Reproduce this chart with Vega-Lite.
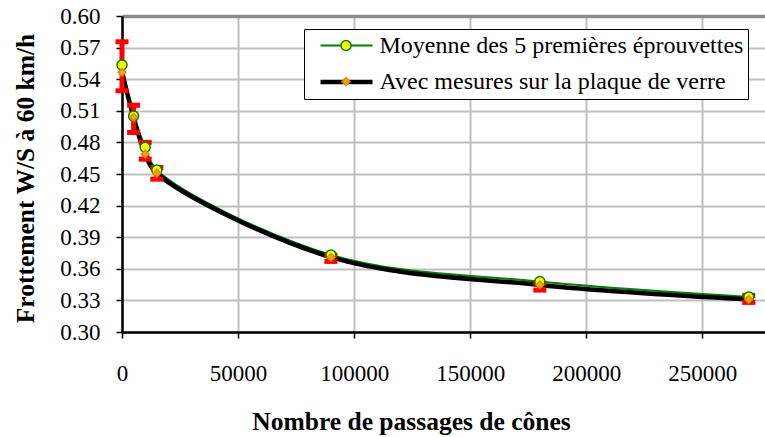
{
  "$schema": "https://vega.github.io/schema/vega-lite/v6.json",
  "width": 643,
  "height": 316,
  "autosize": "none",
  "padding": {"left": 122, "top": 16, "right": 0, "bottom": 105},
  "background": "white",
  "config": {
    "font": "Liberation Serif",
    "view": {"stroke": null}
  },
  "datasets": {
    "points": [
      {"passages": 0, "frottement": 0.5535, "serie": "Moyenne des 5 premières éprouvettes"},
      {"passages": 5000, "frottement": 0.505, "serie": "Moyenne des 5 premières éprouvettes"},
      {"passages": 10000, "frottement": 0.4754, "serie": "Moyenne des 5 premières éprouvettes"},
      {"passages": 15000, "frottement": 0.4538, "serie": "Moyenne des 5 premières éprouvettes"},
      {"passages": 90000, "frottement": 0.3732, "serie": "Moyenne des 5 premières éprouvettes"},
      {"passages": 180000, "frottement": 0.3479, "serie": "Moyenne des 5 premières éprouvettes"},
      {"passages": 270000, "frottement": 0.3333, "serie": "Moyenne des 5 premières éprouvettes"},
      {"passages": 0, "frottement": 0.5466, "serie": "Avec mesures sur la plaque de verre"},
      {"passages": 5000, "frottement": 0.5039, "serie": "Avec mesures sur la plaque de verre"},
      {"passages": 10000, "frottement": 0.469, "serie": "Avec mesures sur la plaque de verre"},
      {"passages": 15000, "frottement": 0.4507, "serie": "Avec mesures sur la plaque de verre"},
      {"passages": 90000, "frottement": 0.371, "serie": "Avec mesures sur la plaque de verre"},
      {"passages": 180000, "frottement": 0.3447, "serie": "Avec mesures sur la plaque de verre"},
      {"passages": 270000, "frottement": 0.331, "serie": "Avec mesures sur la plaque de verre"}
    ],
    "erreurs": [
      {"passages": 0, "bas": 0.529, "haut": 0.5755},
      {"passages": 5000, "bas": 0.4894, "haut": 0.5153},
      {"passages": 10000, "bas": 0.4641, "haut": 0.48},
      {"passages": 15000, "bas": 0.4451, "haut": 0.4562},
      {"passages": 90000, "bas": 0.367, "haut": 0.373},
      {"passages": 180000, "bas": 0.3398, "haut": 0.3464},
      {"passages": 270000, "bas": 0.3281, "haut": 0.3348}
    ]
  },
  "layer": [
    {
      "data": {"name": "points"},
      "mark": {"type": "line", "interpolate": "catmull-rom"},
      "encoding": {
        "x": {
          "field": "passages", "type": "quantitative",
          "scale": {"domain": [0, 277000], "nice": false, "zero": false},
          "axis": {
            "values": [0, 50000, 100000, 150000, 200000, 250000],
            "tickCount": 20,
            "format": "d",
            "title": "Nombre de passages de cônes",
            "labelFontSize": 23, "labelColor": "black", "labelPadding": 24, "labelFlush": false, "labelOverlap": false,
            "tickSize": 6, "tickColor": "black", "tickWidth": 1.5,
            "domainColor": "black", "domainWidth": 2.5,
            "gridColor": "#c0c0c0", "gridWidth": 2,
            "titleFontSize": 25.5, "titleFontWeight": "bold", "titleColor": "black",
            "titleX": 289, "titleY": 97, "titleBaseline": "alphabetic", "titleAlign": "center"
          }
        },
        "y": {
          "field": "frottement", "type": "quantitative",
          "scale": {"domain": [0.3, 0.6], "nice": false, "zero": false},
          "axis": {
            "values": [0.3, 0.33, 0.36, 0.39, 0.42, 0.45, 0.48, 0.51, 0.54, 0.57, 0.6],
            "tickCount": 20,
            "format": ".2f",
            "title": "Frottement W/S à 60 km/h",
            "labelFontSize": 23, "labelColor": "black", "labelPadding": 16, "labelFlush": false, "labelOverlap": false,
            "tickSize": 6, "tickColor": "black", "tickWidth": 1.5,
            "domainColor": "black", "domainWidth": 2.5,
            "gridColor": {"condition": {"test": "datum.value >= 0.599", "value": "#8c8c8c"}, "value": "#c0c0c0"},
            "gridWidth": {"condition": {"test": "datum.value >= 0.599", "value": 3.5}, "value": 2},
            "titleFontSize": 25.5, "titleFontWeight": "bold", "titleColor": "black",
            "titleAngle": -90, "titleX": -89, "titleY": 162, "titleBaseline": "alphabetic", "titleAlign": "center"
          }
        },
        "color": {
          "field": "serie", "type": "nominal", "title": null,
          "scale": {"range": ["#000000", "#008000"]},
          "legend": {
            "orient": "none", "legendX": 182, "legendY": 13,
            "values": ["Moyenne des 5 premières éprouvettes", "Avec mesures sur la plaque de verre"],
            "symbolType": "M-2.6,0H2.6", "symbolSize": 400, "symbolStrokeWidth": 4,
            "labelFont": "Liberation Serif", "labelFontSize": 24, "labelColor": "black", "labelLimit": 600,
            "labelOffset": 20.5, "symbolOffset": 25.5, "padding": 4.5, "rowPadding": 12,
            "strokeColor": "black", "fillColor": "white",
            "labelExpr": "datum.label + ' '"
          }
        },
        "strokeWidth": {
          "field": "serie", "type": "nominal",
          "scale": {"range": [4.5, 2]},
          "legend": null
        }
      }
    },
    {
      "data": {"name": "erreurs"},
      "mark": {"type": "rule", "color": "#ff0000", "strokeWidth": 5},
      "encoding": {
        "x": {"field": "passages", "type": "quantitative"},
        "y": {"field": "bas", "type": "quantitative"},
        "y2": {"field": "haut"}
      }
    },
    {
      "data": {"name": "erreurs"},
      "mark": {"type": "tick", "orient": "horizontal", "color": "#ff0000", "size": 13, "thickness": 5, "opacity": 1},
      "encoding": {
        "x": {"field": "passages", "type": "quantitative"},
        "y": {"field": "bas", "type": "quantitative"}
      }
    },
    {
      "data": {"name": "erreurs"},
      "mark": {"type": "tick", "orient": "horizontal", "color": "#ff0000", "size": 13, "thickness": 5, "opacity": 1},
      "encoding": {
        "x": {"field": "passages", "type": "quantitative"},
        "y": {"field": "haut", "type": "quantitative"}
      }
    },
    {
      "data": {"name": "points"},
      "mark": {"type": "point", "filled": true, "opacity": 1, "strokeWidth": 1.5},
      "encoding": {
        "x": {"field": "passages", "type": "quantitative"},
        "y": {"field": "frottement", "type": "quantitative"},
        "shape": {
          "field": "serie", "type": "nominal", "title": null,
          "scale": {"domain": ["Moyenne des 5 premières éprouvettes", "Avec mesures sur la plaque de verre"], "range": ["circle", "diamond"]},
          "legend": {
            "orient": "none", "legendX": 182, "legendY": 13,
            "labelFont": "Liberation Serif", "labelFontSize": 24, "labelLimit": 600, "labelOpacity": 0,
            "labelOffset": 20.5, "symbolOffset": 25.5, "padding": 4.5, "rowPadding": 12,
            "symbolStrokeWidth": 1.5,
            "labelExpr": "datum.label + ' '"
          }
        },
        "fill": {
          "field": "serie", "type": "nominal", "title": null,
          "scale": {"domain": ["Moyenne des 5 premières éprouvettes", "Avec mesures sur la plaque de verre"], "range": ["#ffff00", "#f7a21b"]}
        },
        "stroke": {
          "field": "serie", "type": "nominal", "title": null,
          "scale": {"domain": ["Moyenne des 5 premières éprouvettes", "Avec mesures sur la plaque de verre"], "range": ["#008000", "#e08a00"]}
        },
        "size": {
          "field": "serie", "type": "nominal", "title": null,
          "scale": {"domain": ["Moyenne des 5 premières éprouvettes", "Avec mesures sur la plaque de verre"], "range": [100, 60]}
        }
      }
    }
  ]
}
